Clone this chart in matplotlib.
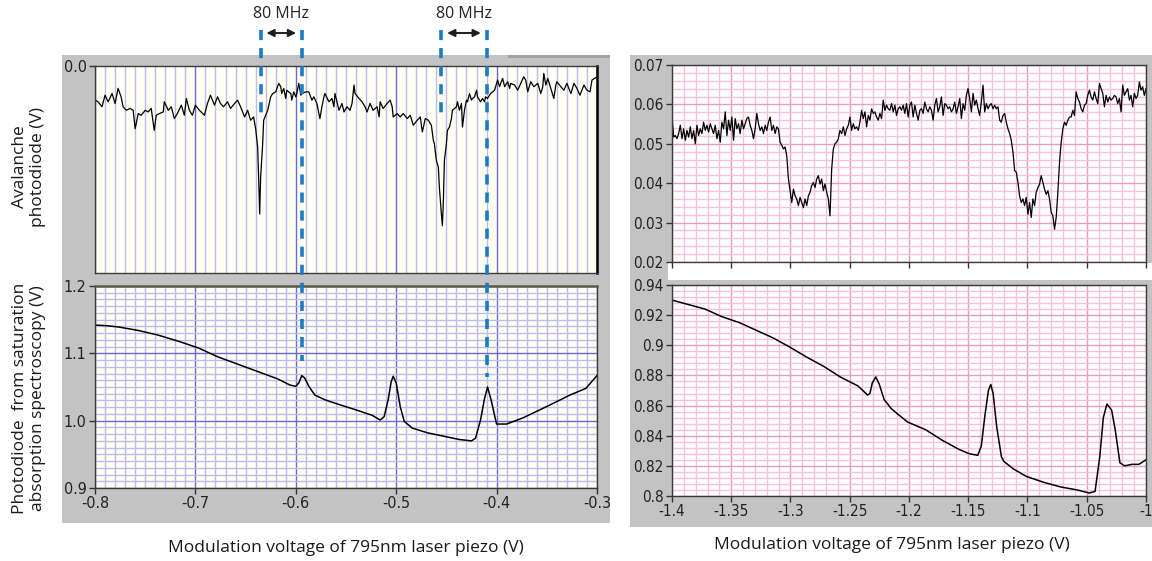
import numpy as np
import matplotlib.pyplot as plt
from matplotlib.ticker import MultipleLocator, FixedLocator, NullFormatter
from matplotlib.patches import Rectangle, FancyArrowPatch
from matplotlib.lines import Line2D
from matplotlib.transforms import blended_transform_factory

plt.rcParams['font.family'] = ['Liberation Sans Narrow', 'DejaVu Sans']
plt.rcParams['font.stretch'] = 'condensed'

# --- avalanche photodiode, -0.8 .. -0.3 V scan (V) ---
apd_x = [-0.800, -0.797, -0.793, -0.790, -0.787, -0.783, -0.780, -0.777, -0.774, -0.772,
         -0.769, -0.765, -0.762, -0.760, -0.757, -0.754, -0.750, -0.747, -0.744, -0.741,
         -0.739, -0.736, -0.732, -0.731, -0.727, -0.724, -0.721, -0.718, -0.714, -0.711,
         -0.709, -0.706, -0.703, -0.700, -0.696, -0.691, -0.688, -0.685, -0.681, -0.678,
         -0.675, -0.672, -0.668, -0.665, -0.661, -0.658, -0.655, -0.651, -0.648, -0.645,
         -0.642, -0.640, -0.638, -0.637, -0.636, -0.635,
         -0.633, -0.632, -0.628, -0.625, -0.623, -0.620, -0.617, -0.615, -0.614, -0.612,
         -0.610, -0.609, -0.605, -0.604, -0.602, -0.600, -0.599, -0.597, -0.595, -0.594,
         -0.590, -0.587, -0.584, -0.582, -0.579, -0.576, -0.574, -0.572, -0.571, -0.567,
         -0.564, -0.562, -0.561, -0.557, -0.554, -0.552, -0.549, -0.546, -0.544, -0.542,
         -0.541, -0.537, -0.534, -0.531, -0.529, -0.526, -0.523, -0.519, -0.517, -0.516,
         -0.513, -0.509, -0.506, -0.504, -0.503, -0.499, -0.496, -0.493, -0.489, -0.486,
         -0.483, -0.479, -0.476, -0.474, -0.471,
         -0.468, -0.465, -0.463, -0.462, -0.460, -0.458, -0.457, -0.455, -0.454, -0.453,
         -0.452, -0.450, -0.449, -0.447, -0.445, -0.444, -0.440, -0.439, -0.437, -0.435,
         -0.434, -0.432, -0.430, -0.429, -0.427, -0.425, -0.424, -0.422, -0.420, -0.419,
         -0.417, -0.416, -0.414, -0.412, -0.411, -0.409, -0.406, -0.402, -0.401, -0.399,
         -0.397, -0.396, -0.394, -0.392, -0.389, -0.387, -0.386, -0.382, -0.379, -0.376,
         -0.373, -0.371, -0.369, -0.366, -0.363, -0.359, -0.356, -0.354, -0.353, -0.351,
         -0.349, -0.346, -0.343, -0.341, -0.340, -0.336, -0.333, -0.330, -0.326, -0.323,
         -0.320, -0.317, -0.313, -0.310, -0.307, -0.305, -0.300]
apd_y = [-0.165, -0.173, -0.197, -0.141, -0.173, -0.133, -0.181, -0.108, -0.149, -0.197,
         -0.214, -0.205, -0.214, -0.303, -0.230, -0.238, -0.214, -0.222, -0.205, -0.311,
         -0.238, -0.230, -0.222, -0.173, -0.214, -0.197, -0.254, -0.230, -0.189, -0.238,
         -0.157, -0.214, -0.238, -0.189, -0.214, -0.238, -0.181, -0.141, -0.189, -0.149,
         -0.181, -0.197, -0.173, -0.205, -0.181, -0.165, -0.197, -0.246, -0.214, -0.262,
         -0.246, -0.303, -0.392, -0.537, -0.715, -0.537,
         -0.375, -0.262, -0.214, -0.149, -0.133, -0.125, -0.084, -0.100, -0.133, -0.108,
         -0.157, -0.117, -0.133, -0.165, -0.125, -0.149, -0.133, -0.084, -0.141, -0.133,
         -0.125, -0.125, -0.165, -0.149, -0.181, -0.254, -0.197, -0.149, -0.133, -0.173,
         -0.157, -0.197, -0.133, -0.214, -0.181, -0.222, -0.197, -0.214, -0.181, -0.092,
         -0.133, -0.157, -0.173, -0.197, -0.222, -0.181, -0.214, -0.197, -0.246, -0.173,
         -0.205, -0.181, -0.165, -0.197, -0.246, -0.230, -0.246, -0.230, -0.254, -0.238,
         -0.286, -0.262, -0.246, -0.319, -0.254,
         -0.262, -0.286, -0.359, -0.375, -0.456, -0.489, -0.586, -0.715, -0.772, -0.650,
         -0.456, -0.375, -0.311, -0.295, -0.254, -0.214, -0.197, -0.173, -0.214, -0.181,
         -0.295, -0.214, -0.165, -0.173, -0.133, -0.165, -0.157, -0.149, -0.117, -0.149,
         -0.165, -0.173, -0.157, -0.173, -0.149, -0.157, -0.133, -0.117, -0.100, -0.068,
         -0.100, -0.084, -0.060, -0.100, -0.076, -0.108, -0.084, -0.092, -0.117, -0.084,
         -0.052, -0.068, -0.125, -0.076, -0.100, -0.084, -0.133, -0.100, -0.036, -0.092,
         -0.060, -0.108, -0.157, -0.092, -0.076, -0.100, -0.117, -0.084, -0.133, -0.084,
         -0.108, -0.141, -0.092, -0.117, -0.125, -0.068, -0.052]

# --- saturation absorption photodiode, same scan (V) ---
sas_x = [-0.800, -0.788, -0.776, -0.757, -0.737, -0.717, -0.697, -0.678, -0.658, -0.638,
         -0.618, -0.606, -0.600, -0.597, -0.594, -0.591, -0.587, -0.581, -0.571, -0.559,
         -0.540, -0.524, -0.516, -0.512, -0.508, -0.505, -0.503, -0.500, -0.496, -0.492,
         -0.484, -0.469, -0.453, -0.437, -0.425, -0.421, -0.416, -0.412, -0.409, -0.405,
         -0.401, -0.400, -0.390, -0.374, -0.350, -0.327, -0.311, -0.300]
sas_y = [1.142, 1.141, 1.139, 1.134, 1.127, 1.118, 1.108, 1.095, 1.084, 1.073,
         1.062, 1.053, 1.051, 1.056, 1.067, 1.063, 1.051, 1.038, 1.031, 1.025,
         1.016, 1.008, 1.001, 1.006, 1.031, 1.058, 1.066, 1.056, 1.021, 0.999,
         0.989, 0.982, 0.977, 0.972, 0.970, 0.974, 1.001, 1.033, 1.050, 1.028,
         1.001, 0.995, 0.995, 1.004, 1.021, 1.038, 1.048, 1.067]

# --- second scan, -1.4 .. -1.0 V, evenly sampled ---
scan2_start, scan2_stop = -1.4, -1.0
apd2_y = [0.0568, 0.0517, 0.0521, 0.0513, 0.0526, 0.0547, 0.0513, 0.0538, 0.0509, 0.0534,
          0.0517, 0.0543, 0.0513, 0.0534, 0.0500, 0.0547, 0.0521, 0.0538, 0.0526, 0.0555,
          0.0534, 0.0547, 0.0530, 0.0551, 0.0538, 0.0526, 0.0547, 0.0513, 0.0534, 0.0504,
          0.0555, 0.0538, 0.0581, 0.0521, 0.0560, 0.0534, 0.0568, 0.0509, 0.0564, 0.0538,
          0.0551, 0.0526, 0.0560, 0.0538, 0.0551, 0.0564, 0.0568, 0.0547, 0.0534, 0.0513,
          0.0538, 0.0577, 0.0551, 0.0534, 0.0543, 0.0526, 0.0547, 0.0534, 0.0555, 0.0568,
          0.0534, 0.0547, 0.0526, 0.0543, 0.0538, 0.0504, 0.0496, 0.0487, 0.0492, 0.0470,
          0.0411, 0.0381, 0.0351, 0.0385, 0.0368, 0.0360, 0.0343, 0.0364, 0.0351, 0.0338,
          0.0360, 0.0343, 0.0368, 0.0377, 0.0394, 0.0402, 0.0389, 0.0411, 0.0419, 0.0398,
          0.0411, 0.0381, 0.0398, 0.0377, 0.0360, 0.0317,
          0.0436, 0.0487, 0.0500, 0.0504, 0.0513, 0.0534, 0.0526, 0.0543, 0.0521, 0.0538,
          0.0547, 0.0568, 0.0534, 0.0551, 0.0538, 0.0543, 0.0534, 0.0555, 0.0585, 0.0564,
          0.0581, 0.0543, 0.0572, 0.0560, 0.0589, 0.0577, 0.0581, 0.0568, 0.0560, 0.0577,
          0.0564, 0.0611, 0.0585, 0.0598, 0.0589, 0.0585, 0.0602, 0.0581, 0.0598, 0.0572,
          0.0589, 0.0594, 0.0585, 0.0598, 0.0577, 0.0602, 0.0568, 0.0598, 0.0606, 0.0568,
          0.0598, 0.0577, 0.0560, 0.0585, 0.0589, 0.0577, 0.0606, 0.0589, 0.0581, 0.0594,
          0.0585, 0.0560, 0.0598, 0.0615, 0.0581, 0.0594, 0.0619, 0.0572, 0.0602, 0.0598,
          0.0589, 0.0594, 0.0581, 0.0589, 0.0606, 0.0577, 0.0594, 0.0615, 0.0564, 0.0602,
          0.0585, 0.0623, 0.0640, 0.0615, 0.0581, 0.0628, 0.0598, 0.0611, 0.0589, 0.0572,
          0.0606, 0.0649, 0.0581, 0.0602, 0.0589, 0.0598,
          0.0602, 0.0589, 0.0598, 0.0589, 0.0594, 0.0560, 0.0555, 0.0572, 0.0577, 0.0555,
          0.0538, 0.0526, 0.0509, 0.0479, 0.0432, 0.0428, 0.0402, 0.0368, 0.0351, 0.0360,
          0.0343, 0.0364, 0.0321, 0.0351, 0.0313, 0.0360, 0.0343, 0.0377, 0.0389, 0.0398,
          0.0419, 0.0402, 0.0385, 0.0372, 0.0381, 0.0360, 0.0326, 0.0317, 0.0283, 0.0313,
          0.0377, 0.0453, 0.0504, 0.0538, 0.0555, 0.0547, 0.0560, 0.0568, 0.0568, 0.0585,
          0.0572, 0.0632, 0.0615, 0.0606, 0.0589, 0.0581, 0.0598, 0.0602, 0.0623, 0.0636,
          0.0619, 0.0611, 0.0632, 0.0615, 0.0602, 0.0653, 0.0640, 0.0628, 0.0594, 0.0623,
          0.0606, 0.0619, 0.0611, 0.0615, 0.0623, 0.0619, 0.0602, 0.0615, 0.0581, 0.0649,
          0.0623, 0.0632, 0.0640, 0.0611, 0.0623, 0.0594, 0.0628, 0.0615, 0.0623, 0.0657,
          0.0636, 0.0645, 0.0623, 0.0640]
apd2_x = np.linspace(scan2_start, scan2_stop, len(apd2_y))

sas2_x = [-1.400, -1.386, -1.372, -1.358, -1.343, -1.329, -1.315, -1.301, -1.286, -1.272,
          -1.258, -1.243, -1.235, -1.233, -1.231, -1.228, -1.225, -1.221, -1.215, -1.209,
          -1.201, -1.186, -1.172, -1.158, -1.149, -1.142, -1.139, -1.136, -1.133, -1.131,
          -1.129, -1.126, -1.122, -1.120, -1.112, -1.101, -1.086, -1.072, -1.058, -1.048,
          -1.043, -1.039, -1.036, -1.033, -1.029, -1.026, -1.022, -1.018, -1.012, -1.006,
          -1.000]
sas2_y = [0.930, 0.927, 0.924, 0.919, 0.915, 0.910, 0.905, 0.899, 0.892, 0.886,
          0.879, 0.873, 0.867, 0.868, 0.875, 0.879, 0.874, 0.864, 0.858, 0.854,
          0.849, 0.844, 0.837, 0.831, 0.828, 0.827, 0.833, 0.853, 0.870, 0.874,
          0.868, 0.846, 0.826, 0.823, 0.818, 0.813, 0.809, 0.806, 0.804, 0.802,
          0.803, 0.826, 0.852, 0.861, 0.857, 0.844, 0.822, 0.820, 0.821, 0.821,
          0.824]

# marker positions of the two 80 MHz gaps (V on the lower-left scan)
gap_left = [-0.635, -0.594]
gap_right = [-0.455, -0.410]

W, H = 1152, 561
fig = plt.figure(figsize=(W / 100, H / 100), dpi=100)


def rect(x0, y0, x1, y1):
    # pixel box (top-left origin) -> figure fraction [l, b, w, h]
    return [x0 / W, 1 - y1 / H, (x1 - x0) / W, (y1 - y0) / H]


def panel(x0, y0, x1, y1, color, z=0):
    l, b, w, h = rect(x0, y0, x1, y1)
    fig.add_artist(Rectangle((l, b), w, h, transform=fig.transFigure,
                             facecolor=color, edgecolor='none', zorder=z))


# grey instrument frames
panel(62, 55, 610, 523, '#c3c3c3')
panel(508, 55, 610, 58, '#a2a2a2')
panel(630, 55, 1152, 527, '#c3c3c3')
panel(668, 263, 1152, 280, 'white')

BLUE_MIN, BLUE_MAJ = '#bcbcf0', '#6a6ad2'
PINK_MIN, PINK_MAJ = '#f5c2dc', '#e79cc2'


def style(ax, minor_c, major_c, face):
    ax.set_facecolor(face)
    ax.set_axisbelow(True)
    for s in ax.spines.values():
        s.set_color('#3a3a3a')
        s.set_linewidth(1.0)
    ax.tick_params(which='major', direction='out', length=4, width=1,
                   color='#333333', labelcolor='#222222', labelsize=11.5, pad=2)
    ax.tick_params(which='minor', length=0)
    ax.grid(which='minor', color=minor_c, lw=1.0)
    ax.grid(which='major', color=major_c, lw=1.0)


# top left: avalanche photodiode
ax_tl = fig.add_axes(rect(95, 66, 597, 273))
style(ax_tl, BLUE_MIN, BLUE_MAJ, '#fffff4')
ax_tl.plot(apd_x, apd_y, color='black', lw=0.9)
ax_tl.set_xlim(-0.8, -0.3)
ax_tl.set_ylim(-1.0, 0.0)
ax_tl.xaxis.set_major_locator(MultipleLocator(0.1))
ax_tl.xaxis.set_minor_locator(MultipleLocator(0.01))
ax_tl.xaxis.set_major_formatter(NullFormatter())
ax_tl.tick_params(axis='x', length=0)
ax_tl.yaxis.set_major_locator(FixedLocator([0.0]))
ax_tl.set_yticklabels(['0.0'])
ax_tl.grid(axis='y', which='both', visible=False)
ax_tl.spines['right'].set_linewidth(1.8)
ax_tl.spines['right'].set_color('black')

# bottom left: saturation absorption
ax_bl = fig.add_axes(rect(95, 286, 597, 488))
style(ax_bl, BLUE_MIN, BLUE_MAJ, '#fffff4')
ax_bl.plot(sas_x, sas_y, color='black', lw=1.1)
ax_bl.set_xlim(-0.8, -0.3)
ax_bl.set_ylim(0.9, 1.2)
ax_bl.xaxis.set_minor_locator(MultipleLocator(0.01))
ax_bl.yaxis.set_minor_locator(MultipleLocator(0.01))
ax_bl.set_xticks([-0.8, -0.7, -0.6, -0.5, -0.4, -0.3])
ax_bl.set_xticklabels(['-0.8', '-0.7', '-0.6', '-0.5', '-0.4', '-0.3'])
ax_bl.set_yticks([0.9, 1.0, 1.1, 1.2])
ax_bl.set_yticklabels(['0.9', '1.0', '1.1', '1.2'])
ax_bl.spines['top'].set_color('#5c5c44')
ax_bl.spines['top'].set_linewidth(1.8)

# top right: avalanche photodiode, second scan
ax_tr = fig.add_axes(rect(672, 65, 1146, 262))
style(ax_tr, PINK_MIN, PINK_MAJ, 'white')
ax_tr.plot(apd2_x, apd2_y, color='black', lw=0.9)
ax_tr.set_xlim(-1.4, -1.0)
ax_tr.set_ylim(0.02, 0.07)
ax_tr.xaxis.set_major_locator(MultipleLocator(0.05))
ax_tr.xaxis.set_minor_locator(MultipleLocator(0.01))
ax_tr.xaxis.set_major_formatter(NullFormatter())
ax_tr.yaxis.set_minor_locator(MultipleLocator(0.002))
ax_tr.set_yticks([0.02, 0.03, 0.04, 0.05, 0.06, 0.07])
ax_tr.set_yticklabels(['0.02', '0.03', '0.04', '0.05', '0.06', '0.07'])
ax_tr.tick_params(labelsize=11)

# bottom right: saturation absorption, second scan
ax_br = fig.add_axes(rect(672, 285, 1146, 496))
style(ax_br, PINK_MIN, PINK_MAJ, 'white')
ax_br.plot(sas2_x, sas2_y, color='black', lw=1.1)
ax_br.set_xlim(-1.4, -1.0)
ax_br.set_ylim(0.8, 0.94)
ax_br.xaxis.set_minor_locator(MultipleLocator(0.01))
ax_br.yaxis.set_minor_locator(MultipleLocator(0.004))
xt = [-1.4, -1.35, -1.3, -1.25, -1.2, -1.15, -1.1, -1.05, -1.0]
ax_br.set_xticks(xt)
ax_br.set_xticklabels(['-1.4', '-1.35', '-1.3', '-1.25', '-1.2', '-1.15', '-1.1', '-1.05', '-1'])
yt = [0.8, 0.82, 0.84, 0.86, 0.88, 0.9, 0.92, 0.94]
ax_br.set_yticks(yt)
ax_br.set_yticklabels(['0.8', '0.82', '0.84', '0.86', '0.88', '0.9', '0.92', '0.94'])
ax_br.tick_params(labelsize=11)

# dashed markers and 80 MHz arrows, x in scan volts, y in figure
trans = blended_transform_factory(ax_bl.transData, fig.transFigure)
DASH = '#1b7cc2'
marker_ends = [(gap_left[0], 119), (gap_left[1], 361), (gap_right[0], 119), (gap_right[1], 377)]
for xv, y_end in marker_ends:
    fig.add_artist(Line2D([xv, xv], [1 - 30 / H, 1 - y_end / H], transform=trans,
                          color=DASH, lw=2.6, linestyle=(0, (2.8, 2.2)), zorder=6))

for pair in (gap_left, gap_right):
    arr = FancyArrowPatch((pair[0] + 0.003, 1 - 33 / H), (pair[1] - 0.003, 1 - 33 / H),
                          transform=trans, arrowstyle='<|-|>', mutation_scale=11,
                          color='#1e1e1e', lw=1.4, zorder=7)
    fig.add_artist(arr)
    fig.text((pair[0] + pair[1]) / 2, 1 - 14 / H, '80 MHz', transform=trans,
             ha='center', va='center', fontsize=11.5, family='Open Sans',
             fontstretch='normal', color='#222222')

lab = dict(family='Open Sans', fontstretch='normal', fontsize=12.5, color='#1a1a1a')
fig.text(346 / W, 1 - 548 / H, 'Modulation voltage of 795nm laser piezo (V)',
         ha='center', va='center', **lab)
fig.text(892 / W, 1 - 545 / H, 'Modulation voltage of 795nm laser piezo (V)',
         ha='center', va='center', **lab)
fig.text(29 / W, 1 - 167 / H, 'Avalanche\nphotodiode (V)', rotation=90,
         ha='center', va='center', multialignment='center', linespacing=1.1, **lab)
fig.text(29 / W, 1 - 398 / H, 'Photodiode  from saturation\nabsorption spectroscopy (V)',
         rotation=90, ha='center', va='center', multialignment='center',
         linespacing=1.1, **lab)

fig.savefig('out.png', dpi=100)
